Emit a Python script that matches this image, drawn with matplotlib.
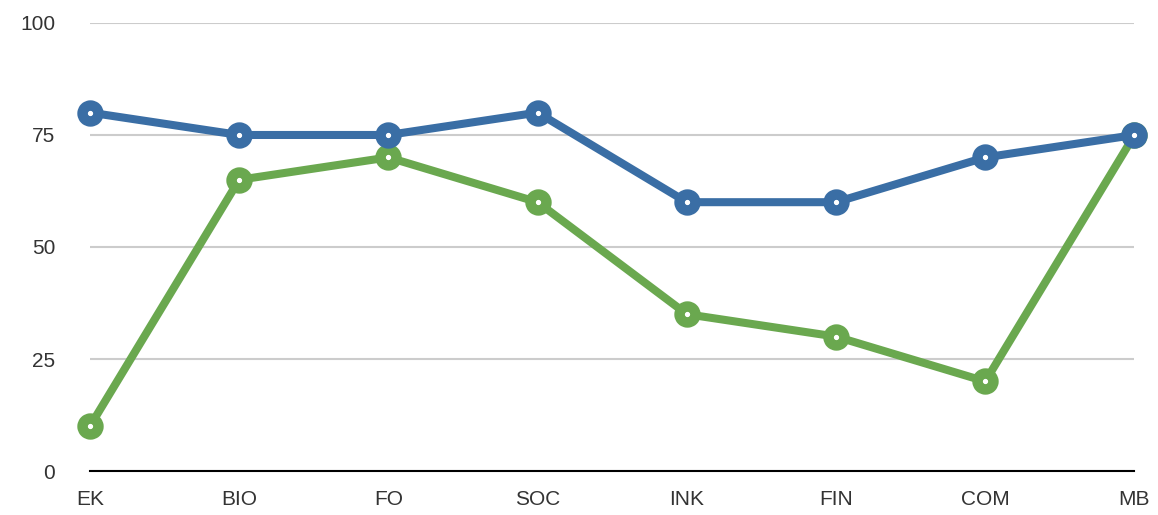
import matplotlib
matplotlib.use("Agg")
import matplotlib.pyplot as plt

categories = ["EK", "BIO", "FO", "SOC", "INK", "FIN", "COM", "MB"]
blue_vals = [80, 75, 75, 80, 60, 60, 70, 75]
green_vals = [10, 65, 70, 60, 35, 30, 20, 75]
y_ticks = [0, 25, 50, 75, 100]

plt.rcParams["font.family"] = ["Liberation Sans", "DejaVu Sans"]

fig = plt.figure(figsize=(11.58, 5.15), dpi=100)
ax = fig.add_axes([0.0777, 0.0854, 0.902, 0.87])

x = list(range(len(categories)))
ax.plot(x, green_vals, color="#6aa84f", lw=5.8, marker="o", ms=11.5, mew=7.5,
        mfc="white", mec="#6aa84f", clip_on=False, zorder=3)
ax.plot(x, blue_vals, color="#3a6ea5", lw=5.8, marker="o", ms=11.5, mew=7.5,
        mfc="white", mec="#3a6ea5", clip_on=False, zorder=4)

ax.set_xlim(0, len(categories) - 1)
ax.set_ylim(0, 100)
ax.set_yticks(y_ticks)
ax.set_xticks(x)
ax.set_xticklabels(categories)
ax.grid(axis="y", color="#cccccc", lw=1.5)
ax.set_axisbelow(True)
for s in ["top", "right", "left"]:
    ax.spines[s].set_visible(False)
ax.spines["bottom"].set_color("black")
ax.spines["bottom"].set_linewidth(1.5)
ax.tick_params(axis="both", length=0, labelsize=15, colors="#333333")
ax.tick_params(axis="y", pad=25)
ax.tick_params(axis="x", pad=14)

fig.savefig("out.png", dpi=100)
